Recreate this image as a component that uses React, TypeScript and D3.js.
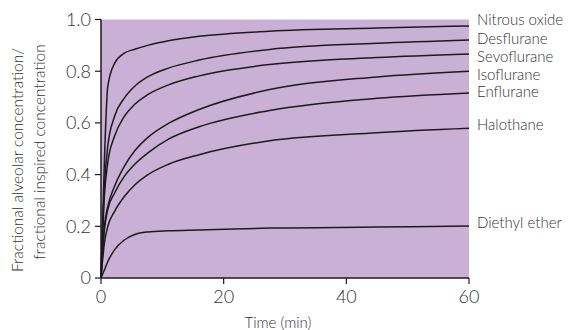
import React from "react";
import * as d3 from "d3";

const times = [0, 0.55, 1.1, 2.2, 3.8, 5.5, 7.6, 11, 16, 27.5, 45, 60];

const agents = ["Nitrous oxide", "Desflurane", "Sevoflurane", "Isoflurane", "Enflurane", "Halothane", "Diethyl ether"];

const nitrousOxide = [0, 0.45, 0.74, 0.83, 0.87, 0.885, 0.9, 0.918, 0.935, 0.955, 0.967, 0.975];
const desflurane = [0, 0.35, 0.51, 0.625, 0.696, 0.742, 0.778, 0.812, 0.843, 0.884, 0.908, 0.921];
const sevoflurane = [0, 0.315, 0.445, 0.548, 0.625, 0.672, 0.709, 0.747, 0.782, 0.826, 0.853, 0.867];
const isoflurane = [0, 0.2, 0.276, 0.354, 0.432, 0.492, 0.543, 0.598, 0.652, 0.729, 0.778, 0.8];
const enflurane = [0, 0.186, 0.264, 0.328, 0.393, 0.44, 0.483, 0.537, 0.585, 0.648, 0.695, 0.716];
const halothane = [0, 0.134, 0.199, 0.257, 0.315, 0.36, 0.399, 0.44, 0.477, 0.531, 0.562, 0.579];
const diethylEther = [0, 0.031, 0.063, 0.109, 0.147, 0.168, 0.178, 0.183, 0.186, 0.193, 0.197, 0.201];

const seriesValues = [nitrousOxide, desflurane, sevoflurane, isoflurane, enflurane, halothane, diethylEther];

// label anchor heights (in data units) for the right-hand labels
const labelAnchors = [1.0, 0.927, 0.857, 0.788, 0.722, 0.593, 0.213];

const xTicks = [0, 20, 40, 60];
const yTicks = [0, 0.2, 0.4, 0.6, 0.8, 1.0];
const yTickLabels = ["0", "0.2", "0.4", "0.6", "0.8", "1.0"];

export default function App() {
  const W = 572;
  const H = 330;
  const x = d3.scaleLinear().domain([0, 60]).range([101, 469]);
  const y = d3.scaleLinear().domain([0, 1]).range([278, 19.5]);
  const font = "Lato, 'Open Sans', sans-serif";
  const textColor = "#333";

  const line = d3
    .line<[number, number]>()
    .x((d) => x(d[0]))
    .y((d) => y(d[1]))
    .curve(d3.curveMonotoneX);

  return (
    <svg width={W} height={H} style={{ position: "absolute", left: 0, top: 0 }} fontFamily={font} fontWeight={300}>
      <rect x={x(0)} y={y(1)} width={x(60) - x(0)} height={y(0) - y(1)} fill="#cab0d5" />
      {seriesValues.map((vals, i) => (
        <path
          key={agents[i]}
          d={line(times.map((t, j) => [t, vals[j]] as [number, number])) || ""}
          fill="none"
          stroke="#1c1a1e"
          strokeWidth={1.5}
        />
      ))}
      {/* axes */}
      <line x1={x(0)} x2={x(0)} y1={y(1)} y2={y(0)} stroke="#1c1a1e" strokeWidth={1.5} />
      <line x1={x(0)} x2={x(60)} y1={y(0)} y2={y(0)} stroke="#1c1a1e" strokeWidth={1.5} />
      {yTicks.map((t, i) => (
        <g key={"y" + t}>
          <line x1={x(0) - 6} x2={x(0)} y1={y(t)} y2={y(t)} stroke="#1c1a1e" strokeWidth={1.2} />
          <text x={x(0) - 10} y={y(t)} dy="0.36em" textAnchor="end" fontSize={18} fill={textColor}>
            {yTickLabels[i]}
          </text>
        </g>
      ))}
      {xTicks.map((t) => (
        <g key={"x" + t}>
          <line x1={x(t)} x2={x(t)} y1={y(0)} y2={y(0) + 6} stroke="#1c1a1e" strokeWidth={1.2} />
          <text x={x(t)} y={303} textAnchor="middle" fontSize={18} fill={textColor}>
            {t}
          </text>
        </g>
      ))}
      <text x={278} y={328} textAnchor="middle" fontSize={15} fill={textColor}>
        Time (min)
      </text>
      <text transform="translate(23,160) rotate(-90)" textAnchor="middle" fontSize={15.5} fill={textColor}>
        Fractional alveolar concentration/
      </text>
      <text transform="translate(45,152) rotate(-90)" textAnchor="middle" fontSize={15.5} fill={textColor}>
        fractional inspired concentration
      </text>
      {agents.map((name, i) => (
        <text key={"l" + name} x={477} y={y(labelAnchors[i])} dy="0.36em" fontSize={15} fill={textColor}>
          {name}
        </text>
      ))}
    </svg>
  );
}
